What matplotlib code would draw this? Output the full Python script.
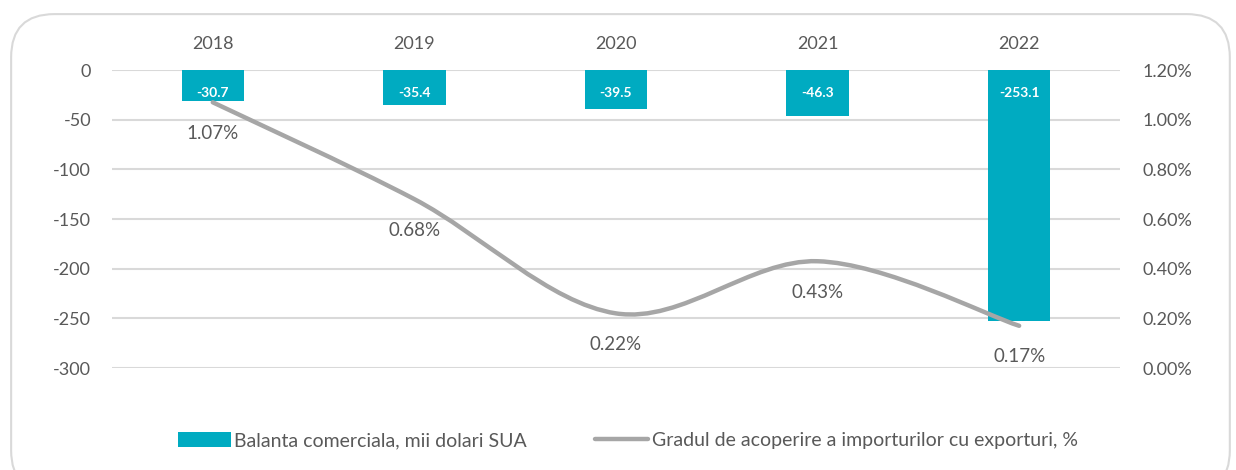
import matplotlib
matplotlib.use('Agg')
from matplotlib import pyplot as plt
from matplotlib.path import Path
from matplotlib.patches import PathPatch, FancyBboxPatch, Patch
from matplotlib.lines import Line2D

years = ['2018', '2019', '2020', '2021', '2022']
balance = [-30.7, -35.4, -39.5, -46.3, -253.1]
coverage = [1.07, 0.68, 0.22, 0.43, 0.17]

BAR_COLOR = '#00ABC1'
LINE_COLOR = '#A6A6A6'
TEXT_COLOR = '#595959'
GRID_COLOR = '#D9D9D9'

plt.rcParams['font.family'] = ['Lato', 'DejaVu Sans']
plt.rcParams['axes.unicode_minus'] = False

fig = plt.figure(figsize=(12.36, 4.70), dpi=100)

# rounded frame around the whole chart
frame = FancyBboxPatch((0.009, -0.05), 0.986, 1.02, boxstyle='round,pad=0,rounding_size=0.035',
                       transform=fig.transFigure, facecolor='white', edgecolor=GRID_COLOR,
                       linewidth=1.5, mutation_aspect=1236 / 470, zorder=-5)
fig.patches.append(frame)

ax = fig.add_axes([0.0906, 0.217, 0.8155, 0.634])
ax.set_facecolor('none')
x = list(range(len(years)))
ax.bar(x, balance, width=0.31, color=BAR_COLOR, zorder=2)
ax.set_xlim(-0.5, len(years) - 0.5)
ax.set_ylim(-300, 0)
ax.set_yticks(range(-300, 1, 50))
ax.yaxis.grid(True, color=GRID_COLOR, linewidth=1.5)
ax.set_axisbelow(True)
ax.xaxis.tick_top()
ax.set_xticks(x)
ax.set_xticklabels(years)
ax.tick_params(axis='both', length=0, labelsize=13, colors=TEXT_COLOR)
ax.tick_params(axis='x', pad=13)
ax.tick_params(axis='y', pad=15)
for s in ax.spines.values():
    s.set_visible(False)

for xi, v in zip(x, balance):
    ax.annotate(f'{v:.1f}', (xi, 0), xytext=(0, -23), textcoords='offset pixels',
                ha='center', va='center', color='white', fontsize=10, fontweight='bold', zorder=4)

ax2 = ax.twinx()
ax2.set_ylim(0, 1.2)
ax2.set_yticks([0, 0.2, 0.4, 0.6, 0.8, 1.0, 1.2])
ax2.set_yticklabels([f'{v:.2f}%' for v in [0, 0.2, 0.4, 0.6, 0.8, 1.0, 1.2]])
ax2.tick_params(axis='y', length=0, labelsize=13, colors=TEXT_COLOR, pad=16)
for s in ax2.spines.values():
    s.set_visible(False)

# smoothed line (Catmull-Rom as bezier segments)
pts = list(zip(x, coverage))
verts = [pts[0]]
codes = [Path.MOVETO]
n = len(pts)
for i in range(n - 1):
    p0 = pts[max(i - 1, 0)]
    p1 = pts[i]
    p2 = pts[i + 1]
    p3 = pts[min(i + 2, n - 1)]
    c1 = (p1[0] + (p2[0] - p0[0]) / 6, p1[1] + (p2[1] - p0[1]) / 6)
    c2 = (p2[0] - (p3[0] - p1[0]) / 6, p2[1] - (p3[1] - p1[1]) / 6)
    verts += [c1, c2, p2]
    codes += [Path.CURVE4] * 3
ax2.add_patch(PathPatch(Path(verts, codes), facecolor='none', edgecolor=LINE_COLOR,
                        linewidth=3.2, capstyle='round', zorder=3))

for xi, v in zip(x, coverage):
    ax2.annotate(f'{v:.2f}%', (xi, v), xytext=(0, -31), textcoords='offset pixels',
                 ha='center', va='center', color=TEXT_COLOR, fontsize=13.5)

handles = [Patch(facecolor=BAR_COLOR, edgecolor='none'),
           Line2D([0], [0], color=LINE_COLOR, linewidth=3.2, solid_capstyle='round')]
labels = ['Balanta comerciala, mii dolari SUA', 'Gradul de acoperire a importurilor cu exporturi, %']
fig.legend(handles, labels, loc='center', bbox_to_anchor=(0.508, 0.063), ncol=2, frameon=False,
           fontsize=14, labelcolor=TEXT_COLOR, handlelength=2.7, handleheight=0.8,
           handletextpad=0.2, columnspacing=3.5)

plt.savefig('out.png', dpi=100)
